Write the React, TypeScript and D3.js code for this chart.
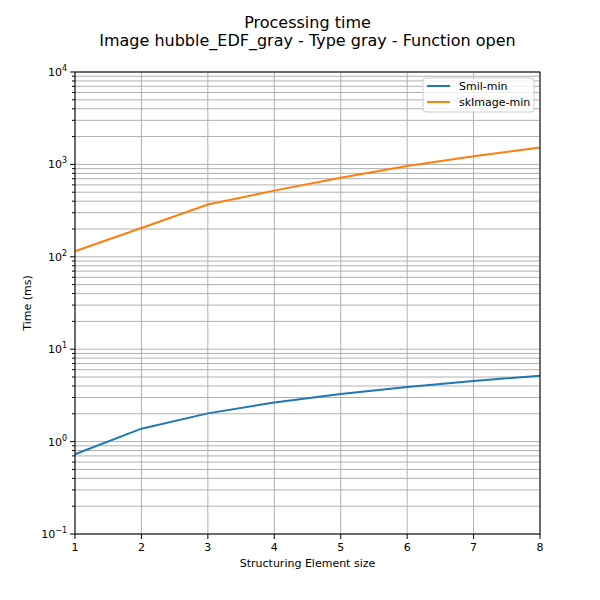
import React from "react";
import * as d3 from "d3";

const sizes = [1, 2, 3, 4, 5, 6, 7, 8];
const smilMin = [0.73, 1.38, 2.02, 2.65, 3.28, 3.9, 4.53, 5.16];
const skimageMin = [115, 205, 368, 520, 717, 959, 1228, 1524];
const seriesNames = ["Smil-min", "skImage-min"];
const seriesColors = ["#1f77b4", "#ff7f0e"];
const yMajorExps = [-1, 0, 1, 2, 3, 4];

const W = 600, H = 600;
const L = 75, R = 540, T = 72, B = 534;
const FONT = "DejaVu Sans, sans-serif";

export default function App() {
  const x = d3.scaleLinear().domain([1, 8]).range([L, R]);
  const y = d3.scaleLog().domain([0.1, 10000]).range([B, T]);
  const minor: number[] = [];
  for (let e = -1; e < 4; e++) for (let k = 2; k <= 9; k++) minor.push(k * Math.pow(10, e));
  const line = d3.line<[number, number]>().x(d => x(d[0])).y(d => y(d[1]));
  const series = [smilMin, skimageMin];
  return (
    <svg width={W} height={H} style={{ position: "absolute", left: 0, top: 0, background: "#fff" }} fontFamily={FONT}>
      <rect x={0} y={0} width={W} height={H} fill="#fff" />
      <text x={307.5} y={28} textAnchor="middle" fontSize={16} fill="#000">Processing time</text>
      <text x={307.5} y={46} textAnchor="middle" fontSize={16} fill="#000">Image hubble_EDF_gray - Type gray - Function open</text>
      {/* grid */}
      {minor.map((v, i) => (
        <line key={"mg" + i} x1={L} x2={R} y1={y(v)} y2={y(v)} stroke="#b0b0b0" strokeWidth={1} />
      ))}
      {yMajorExps.map(e => (
        <line key={"Mg" + e} x1={L} x2={R} y1={y(Math.pow(10, e))} y2={y(Math.pow(10, e))} stroke="#b0b0b0" strokeWidth={1} />
      ))}
      {sizes.map(s => (
        <line key={"vg" + s} x1={x(s)} x2={x(s)} y1={T} y2={B} stroke="#b0b0b0" strokeWidth={1} />
      ))}
      {/* lines */}
      {series.map((vals, i) => (
        <path key={"s" + i} d={line(sizes.map((s, j) => [s, vals[j]] as [number, number])) || ""} fill="none" stroke={seriesColors[i]} strokeWidth={2} />
      ))}
      {/* frame */}
      <rect x={L} y={T} width={R - L} height={B - T} fill="none" stroke="#000" strokeWidth={1} />
      {/* x ticks */}
      {sizes.map(s => (
        <g key={"xt" + s}>
          <line x1={x(s)} x2={x(s)} y1={B} y2={B + 5} stroke="#000" />
          <text x={x(s)} y={B + 17} textAnchor="middle" fontSize={11}>{s}</text>
        </g>
      ))}
      {/* y ticks */}
      {minor.map((v, i) => (
        <line key={"ymt" + i} x1={L - 3} x2={L} y1={y(v)} y2={y(v)} stroke="#000" />
      ))}
      {yMajorExps.map(e => (
        <g key={"yt" + e}>
          <line x1={L - 5} x2={L} y1={y(Math.pow(10, e))} y2={y(Math.pow(10, e))} stroke="#000" />
          <text x={L - 8} y={y(Math.pow(10, e)) + 4} textAnchor="end" fontSize={11}>
            <tspan>10</tspan>
            <tspan dy={-5} fontSize={8}>{e < 0 ? "\u2212" + Math.abs(e) : String(e)}</tspan>
          </text>
        </g>
      ))}
      <text x={307.5} y={567} textAnchor="middle" fontSize={11}>Structuring Element size</text>
      <text transform={`translate(31,${(T + B) / 2}) rotate(-90)`} textAnchor="middle" fontSize={11}>Time (ms)</text>
      {/* legend */}
      <rect x={423} y={78} width={111} height={34} rx={3} fill="#fff" fillOpacity={0.8} stroke="#cccccc" />
      {seriesNames.map((n, i) => (
        <g key={"lg" + i}>
          <line x1={427} x2={450} y1={86 + i * 16} y2={86 + i * 16} stroke={seriesColors[i]} strokeWidth={2} />
          <text x={459} y={90 + i * 16} fontSize={11}>{n}</text>
        </g>
      ))}
    </svg>
  );
}
